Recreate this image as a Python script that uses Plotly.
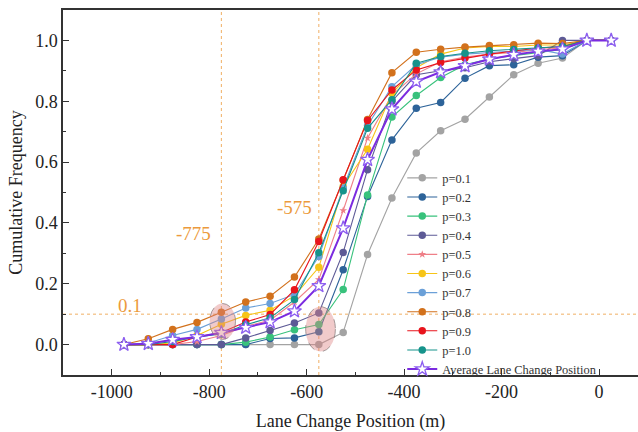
import plotly.graph_objects as go

positions = [-975, -925, -875, -825, -775, -725, -675, -625, -575, -525, -475,
             -425, -375, -325, -275, -225, -175, -125, -75, -25, 25]

p01 = [0, 0, 0, 0, 0, 0, 0, 0, 0, 0.04, 0.296, 0.482, 0.63, 0.703, 0.741, 0.814, 0.887, 0.925, 0.942, 1, 1]
p02 = [0, 0, 0, 0, 0, 0, 0.02, 0.022, 0.042, 0.246, 0.487, 0.673, 0.777, 0.796, 0.876, 0.917, 0.92, 0.945, 0.95, 1, 1]
p03 = [0, 0, 0, 0, 0, 0.008, 0.025, 0.049, 0.066, 0.181, 0.492, 0.748, 0.819, 0.878, 0.92, 0.94, 0.95, 0.96, 0.97, 1, 1]
p04 = [0, 0, 0, 0, 0, 0.022, 0.046, 0.071, 0.104, 0.303, 0.575, 0.80, 0.887, 0.90, 0.91, 0.93, 0.94, 0.95, 1.0, 1, 1]
p05 = [0, 0, 0, 0.01, 0.03, 0.06, 0.08, 0.14, 0.214, 0.441, 0.679, 0.82, 0.89, 0.93, 0.945, 0.955, 0.96, 0.97, 0.975, 1, 1]
p06 = [0, 0, 0.005, 0.03, 0.067, 0.096, 0.113, 0.16, 0.254, 0.52, 0.642, 0.826, 0.91, 0.955, 0.975, 0.98, 0.98, 0.985, 0.985, 1, 1]
p07 = [0, 0.005, 0.03, 0.05, 0.084, 0.12, 0.135, 0.165, 0.29, 0.515, 0.72, 0.848, 0.92, 0.945, 0.955, 0.96, 0.965, 0.97, 0.955, 1, 1]
p08 = [0, 0.019, 0.05, 0.073, 0.106, 0.14, 0.159, 0.222, 0.347, 0.54, 0.74, 0.894, 0.961, 0.971, 0.978, 0.983, 0.986, 0.991, 0.99, 1, 1]
p09 = [0, 0, 0, 0.025, 0.04, 0.074, 0.099, 0.18, 0.339, 0.542, 0.737, 0.837, 0.903, 0.927, 0.942, 0.955, 0.965, 0.975, 0.98, 1, 1]
p10 = [0, 0, 0.01, 0.025, 0.035, 0.065, 0.088, 0.148, 0.302, 0.506, 0.711, 0.805, 0.925, 0.947, 0.958, 0.966, 0.97, 0.975, 0.98, 1, 1]
average = [0, 0.003, 0.016, 0.025, 0.039, 0.056, 0.074, 0.11, 0.193, 0.383, 0.608, 0.774, 0.865, 0.896, 0.916, 0.938, 0.953, 0.964, 0.971, 1, 1]

series_names = ["p=0.1", "p=0.2", "p=0.3", "p=0.4", "p=0.5", "p=0.6", "p=0.7", "p=0.8", "p=0.9", "p=1.0"]
series_values = [p01, p02, p03, p04, p05, p06, p07, p08, p09, p10]
series_colors = ["#a3a3a3", "#2d6399", "#38c27c", "#5d5a96", "#ef7f88", "#f6c417",
                 "#6ba0d8", "#d2711c", "#e8141c", "#16938b"]

x_ticks = [-1000, -800, -600, -400, -200, 0]
x_ticktext = ["-1000", "-800", "-600", "-400", "-200", "0"]
y_ticks = [0.0, 0.2, 0.4, 0.6, 0.8, 1.0]
y_ticktext = ["0.0", "0.2", "0.4", "0.6", "0.8", "1.0"]

ref_x = [-775, -575]
ref_y = 0.1

FONT = "Liberation Serif, Times New Roman, serif"
ORANGE = "#ec9a3c"

fig = go.Figure()
for name, vals, col in zip(series_names, series_values, series_colors):
    sym = "star" if name == "p=0.5" else "circle"
    size = 6 if name == "p=0.5" else 7.5
    fig.add_trace(go.Scatter(
        x=positions, y=vals, name=name, mode="lines+markers",
        line=dict(color=col, width=1.1),
        marker=dict(symbol=sym, size=size, color=col, line=dict(width=0)),
    ))

fig.add_trace(go.Scatter(
    x=positions, y=average, name="Average Lane Change Position", mode="lines+markers",
    line=dict(color="#7b2be0", width=2),
    marker=dict(symbol="star", size=10.5, color="white", line=dict(color="#8d5ff0", width=1.3)),
))

shapes = []
for xv in ref_x:
    shapes.append(dict(type="line", xref="x", yref="paper", x0=xv, x1=xv, y0=0, y1=1,
                       line=dict(color=ORANGE, width=0.8, dash="dot"), layer="below"))
shapes.append(dict(type="line", xref="paper", yref="y", x0=0, x1=1, y0=ref_y, y1=ref_y,
                   line=dict(color=ORANGE, width=0.8, dash="dot"), layer="below"))
# highlighted ellipses
shapes.append(dict(type="circle", xref="x", yref="y", x0=-799, x1=-746, y0=0.017, y1=0.135,
                   fillcolor="rgba(222,130,130,0.42)", line=dict(color="rgba(130,120,120,0.7)", width=1, dash="dash"),
                   layer="above"))
shapes.append(dict(type="circle", xref="x", yref="y", x0=-602, x1=-541, y0=-0.023, y1=0.125,
                   fillcolor="rgba(222,130,130,0.42)", line=dict(color="rgba(130,120,120,0.7)", width=1, dash="dash"),
                   layer="above"))

annotations = [
    dict(x=-775, y=0.365, xref="x", yref="y", text="-775", showarrow=False,
         xanchor="right", xshift=-8, font=dict(family=FONT, size=19, color=ORANGE)),
    dict(x=-575, y=0.45, xref="x", yref="y", text="-575", showarrow=False,
         xanchor="right", xshift=-5, font=dict(family=FONT, size=19, color=ORANGE)),
    dict(x=-1100, y=0.1, xref="x", yref="y", text="0.1", showarrow=False,
         xanchor="left", yanchor="bottom", xshift=53, yshift=-4, font=dict(family=FONT, size=19, color=ORANGE)),
]

fig.update_layout(
    width=638, height=432,
    margin=dict(l=63, r=0, t=10, b=57),
    paper_bgcolor="white", plot_bgcolor="white",
    font=dict(family=FONT, size=18, color="#222222"),
    shapes=shapes, annotations=annotations,
    legend=dict(x=0.59, y=0.58, xanchor="left", yanchor="top",
                bgcolor="rgba(0,0,0,0)", font=dict(family=FONT, size=12.4, color="#333333"),
                tracegroupgap=0, itemwidth=30),
    showlegend=True,
)
fig.update_xaxes(
    range=[-1100, 80], showline=True, linecolor="#333333", linewidth=1.5, mirror=True,
    ticks="inside", ticklen=6, tickcolor="#333333", tickwidth=1.2,
    tickmode="array", tickvals=x_ticks, ticktext=x_ticktext,
    minor=dict(tickmode="array", tickvals=[-900, -700, -500, -300, -100], ticks="inside", ticklen=3, tickcolor="#333333"),
    showgrid=False, zeroline=False,
    title=dict(text="Lane Change Position (m)", font=dict(family=FONT, size=18), standoff=14),
    tickfont=dict(family=FONT, size=18),
)
fig.update_yaxes(
    range=[-0.1, 1.1], showline=True, linecolor="#333333", linewidth=1.5, mirror=False,
    ticks="inside", ticklen=6, tickcolor="#333333", tickwidth=1.2,
    tickmode="array", tickvals=y_ticks, ticktext=y_ticktext,
    minor=dict(tickmode="array", tickvals=[-0.1, 0.1, 0.3, 0.5, 0.7, 0.9], ticks="inside", ticklen=3, tickcolor="#333333"),
    showgrid=False, zeroline=False,
    title=dict(text="Cumulative Frequency", font=dict(family=FONT, size=18), standoff=8),
    tickfont=dict(family=FONT, size=18),
)

fig.write_html("out.html")
